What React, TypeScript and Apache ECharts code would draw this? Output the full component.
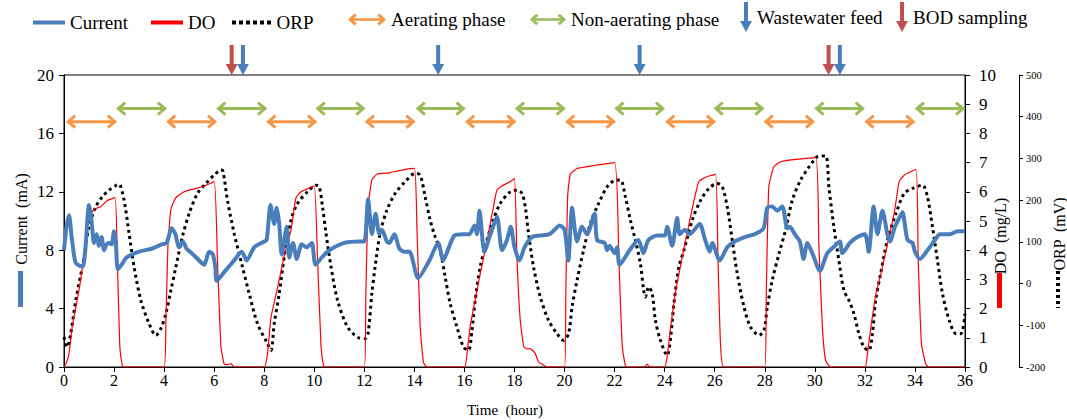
import React, { useEffect, useRef } from 'react';
import * as echarts from 'echarts';

// Time (hour), Current (mA)
const currentData: [number, number][] = [
  [0, 8.0], [0.1, 9.6], [0.2, 10.4], [0.3, 9.0], [0.45, 7.2], [0.6, 6.95], [0.75, 6.9], [0.85, 8.0], [1.0, 11.1], [1.1, 10.0],
  [1.2, 8.5], [1.3, 9.1], [1.4, 8.3], [1.5, 8.9], [1.6, 8.0], [1.7, 8.4], [1.8, 8.5], [1.9, 8.4], [2.0, 9.3], [2.07, 8.6],
  [2.15, 6.7], [2.3, 7.0], [2.5, 7.5], [3.0, 7.9], [3.5, 8.1], [3.9, 8.4], [4.1, 8.5], [4.3, 9.5], [4.45, 9.1], [4.6, 8.2],
  [4.75, 8.6], [4.9, 8.1], [5.1, 7.8], [5.4, 7.3], [5.6, 7.0], [5.8, 7.9], [5.95, 7.7], [6.05, 6.8], [6.1, 5.9], [6.4, 6.5],
  [6.8, 7.3], [7.1, 7.9], [7.3, 7.3], [7.6, 8.2], [8.0, 8.6], [8.1, 8.7], [8.25, 11.1], [8.4, 9.8], [8.5, 10.9], [8.6, 9.8],
  [8.7, 7.7], [8.9, 9.6], [9.0, 7.5], [9.15, 8.5], [9.3, 7.4], [9.5, 8.4], [9.7, 8.2], [9.9, 8.5], [10.05, 7.0], [10.3, 7.5],
  [10.6, 8.0], [11.2, 8.5], [11.8, 8.6], [12.0, 8.6], [12.15, 11.5], [12.3, 9.1], [12.45, 10.5], [12.6, 9.1], [12.7, 9.4], [12.9, 8.6],
  [13.0, 8.5], [13.2, 9.1], [13.4, 8.1], [13.6, 7.9], [13.8, 7.9], [14.15, 6.1], [14.6, 7.3], [14.95, 8.5], [15.15, 7.3], [15.4, 8.3],
  [15.6, 9.0], [15.95, 9.1], [16.2, 9.1], [16.4, 9.7], [16.5, 9.1], [16.6, 10.7], [16.8, 7.9], [17.0, 8.9], [17.1, 9.4], [17.3, 10.3],
  [17.5, 8.0], [17.7, 8.7], [17.85, 9.6], [18.0, 8.2], [18.2, 7.3], [18.4, 8.2], [18.7, 8.9], [19.0, 9.0], [19.4, 9.1], [19.6, 9.4],
  [19.8, 9.7], [20.0, 9.4], [20.15, 7.3], [20.3, 10.9], [20.5, 8.6], [20.7, 9.6], [20.9, 9.1], [21.2, 10.5], [21.3, 8.7], [21.6, 8.5],
  [21.7, 8.0], [21.8, 8.3], [22.0, 7.8], [22.1, 8.2], [22.2, 7.0], [22.6, 8.0], [22.95, 8.7], [23.15, 7.8], [23.35, 8.7], [23.7, 9.0],
  [24.0, 9.0], [24.1, 9.6], [24.3, 8.3], [24.5, 10.2], [24.6, 9.1], [24.8, 9.4], [25.0, 9.1], [25.4, 9.8], [25.6, 8.8], [25.8, 7.9],
  [25.9, 8.5], [26.2, 7.3], [26.5, 8.2], [26.8, 8.6], [27.2, 8.9], [27.6, 9.1], [27.95, 9.5], [28.1, 10.9], [28.3, 11.0], [28.5, 10.7],
  [28.7, 11.0], [28.9, 9.5], [29.0, 9.6], [29.2, 9.1], [29.4, 8.6], [29.55, 7.4], [29.7, 8.5], [29.9, 7.8], [30.2, 6.6], [30.5, 7.8],
  [30.8, 8.3], [31.0, 8.6], [31.1, 7.8], [31.4, 8.5], [31.7, 8.9], [32.0, 9.1], [32.15, 7.9], [32.35, 11.0], [32.5, 9.1], [32.7, 10.7],
  [32.9, 9.1], [33.0, 8.6], [33.2, 9.6], [33.4, 10.3], [33.5, 10.6], [33.7, 8.7], [33.9, 8.5], [34.0, 7.9], [34.2, 7.4], [34.5, 8.0],
  [34.8, 8.7], [35.0, 9.1], [35.4, 9.1], [35.7, 9.3], [36.0, 9.3],
];

// Time (hour), DO (mg/L)
const doData: [number, number][] = [
  [0, 0], [0.1, 0.15], [0.2, 0.46], [0.33, 1.4], [0.53, 2.3], [0.67, 3.0], [0.87, 4.3], [1.0, 5.1], [1.2, 5.4], [1.47, 5.5],
  [1.73, 5.7], [2.04, 5.8], [2.13, 3.7], [2.23, 0.7], [2.33, 0.05], [2.4, 0], [4.0, 0], [4.07, 1.5], [4.15, 4.1], [4.27, 5.4],
  [4.47, 5.8], [4.8, 6.0], [5.2, 6.1], [5.6, 6.2], [6.0, 6.35], [6.13, 3.7], [6.27, 0.7], [6.4, 0.1], [6.55, 0.08], [6.67, 0.12],
  [6.8, 0], [8.0, 0], [8.13, 0.45], [8.27, 1.7], [8.53, 2.7], [8.8, 3.8], [9.07, 4.7], [9.27, 5.8], [9.47, 6.0], [9.73, 6.1],
  [10.0, 6.2], [10.13, 3.7], [10.27, 0.7], [10.37, 0.05], [10.45, 0], [12.0, 0], [12.06, 2.5], [12.15, 5.5], [12.3, 6.4], [12.5, 6.6],
  [13.0, 6.65], [13.55, 6.75], [14.0, 6.8], [14.1, 4.8], [14.23, 1.4], [14.36, 0.17], [14.5, 0], [16.0, 0], [16.1, 0.45], [16.23, 1.4],
  [16.43, 2.3], [16.63, 3.2], [16.9, 4.3], [17.16, 5.5], [17.3, 6.06], [17.5, 6.2], [17.83, 6.35], [18.0, 6.45], [18.1, 3.7], [18.23, 1.6],
  [18.37, 0.7], [18.5, 0.62], [18.63, 0.63], [18.83, 0.46], [18.96, 0.17], [19.1, 0.1], [19.3, 0], [20.0, 0], [20.05, 2.5], [20.12, 5.8],
  [20.23, 6.6], [20.5, 6.8], [21.17, 6.9], [22.0, 7.0], [22.17, 3.7], [22.3, 0.8], [22.43, 0.05], [22.5, 0], [23.2, 0], [23.3, 0.1],
  [23.4, 0], [24.0, 0], [24.1, 0.35], [24.24, 1.37], [24.44, 2.6], [24.64, 3.5], [24.9, 4.6], [25.17, 5.7], [25.37, 6.35], [25.64, 6.5],
  [26.03, 6.6], [26.13, 3.7], [26.23, 0.8], [26.36, 0], [28.0, 0], [28.06, 2.5], [28.16, 6.17], [28.36, 6.86], [28.63, 7.03], [29.16, 7.1],
  [30.03, 7.17], [30.16, 4.2], [30.3, 1.4], [30.43, 0.23], [30.63, 0], [32.0, 0], [32.1, 0.45], [32.24, 1.37], [32.44, 2.5], [32.64, 3.2],
  [32.9, 4.2], [33.17, 5.26], [33.37, 6.35], [33.57, 6.57], [34.04, 6.77], [34.13, 3.7], [34.26, 0.8], [34.43, 0.1], [34.55, 0], [36, 0],
];

// Time (hour), ORP (mV)
const orpData: [number, number][] = [
  [0, -128], [0.13, -152], [0.27, -120], [0.47, -40], [0.73, 40], [1.0, 136], [1.27, 184], [1.53, 208], [1.8, 224], [2.1, 236],
  [2.2, 238], [2.4, 200], [2.6, 120], [2.8, 40], [3.07, -40], [3.4, -96], [3.67, -124], [3.87, -108], [4.07, -72], [4.27, -16],
  [4.47, 40], [4.73, 112], [5.0, 168], [5.33, 216], [5.67, 240], [6.0, 260], [6.27, 272], [6.35, 270], [6.53, 200], [6.8, 120],
  [7.13, 40], [7.4, -24], [7.73, -96], [8.13, -144], [8.27, -160], [8.4, -96], [8.6, -24], [8.8, 64], [9.07, 152], [9.33, 192],
  [9.73, 220], [10.07, 236], [10.2, 232], [10.33, 184], [10.47, 120], [10.67, 40], [10.93, -40], [11.33, -104], [11.77, -130], [12.03, -132],
  [12.15, -120], [12.3, -24], [12.43, 40], [12.63, 120], [12.9, 176], [13.23, 216], [13.63, 244], [14.03, 264], [14.23, 260], [14.43, 208],
  [14.63, 152], [14.83, 112], [15.03, 80], [15.23, 16], [15.43, -48], [15.7, -104], [15.96, -152], [16.16, -160], [16.3, -112], [16.43, -40],
  [16.63, 40], [16.83, 88], [17.1, 144], [17.43, 192], [17.83, 220], [18.1, 224], [18.3, 216], [18.43, 184], [18.56, 120], [18.76, 40],
  [19.03, -32], [19.36, -88], [19.7, -120], [19.96, -136], [20.16, -120], [20.3, -56], [20.5, 8], [20.76, 80], [21.03, 144], [21.36, 192],
  [21.7, 232], [21.96, 246], [22.23, 248], [22.43, 208], [22.63, 152], [22.83, 104], [23.03, 48], [23.16, -16], [23.23, -32], [23.36, -8],
  [23.5, -24], [23.63, -88], [23.83, -136], [24.1, -172], [24.24, -128], [24.37, -48], [24.57, 40], [24.77, 80], [25.1, 152], [25.44, 200],
  [25.77, 228], [26.1, 240], [26.3, 232], [26.5, 184], [26.7, 104], [26.9, 24], [27.17, -56], [27.43, -104], [27.77, -124], [27.97, -112],
  [28.1, -56], [28.3, 8], [28.57, 72], [28.83, 128], [29.1, 200], [29.43, 248], [29.77, 280], [29.97, 296], [30.1, 304], [30.43, 306],
  [30.56, 232], [30.76, 136], [30.96, 56], [31.16, -16], [31.36, -40], [31.56, -72], [31.76, -120], [31.96, -152], [32.16, -160], [32.3, -120],
  [32.43, -40], [32.63, 24], [32.9, 104], [33.24, 168], [33.57, 216], [33.9, 228], [34.3, 236], [34.5, 208], [34.7, 136], [34.9, 56],
  [35.1, -24], [35.37, -88], [35.64, -120], [35.84, -120], [36.0, -72],
];

// Phase intervals (hour): [start, end]
const aeratingPhases: [number, number][] = [
  [0.13, 2.07], [4.13, 6.07], [8.13, 10.07], [12.07, 14.0], [16.07, 18.03], [20.07, 22.0], [24.07, 26.0], [28.0, 29.96], [32.03, 33.97],
];
const nonAeratingPhases: [number, number][] = [
  [2.13, 4.07], [6.13, 8.07], [10.1, 12.0], [14.1, 16.0], [18.06, 20.0], [22.04, 23.97], [26.0, 27.94], [30.03, 31.95], [34.04, 35.96],
];
const AERATING_LEVEL = 16.8; // on the Current axis
const NON_AERATING_LEVEL = 17.7;

// Event times (hour)
const feedTimes: number[] = [7.15, 14.95, 23.0, 31.0];
const bodTimes: number[] = [6.7, 30.55];

const CURRENT_MAX = 20;

const BLUE = '#4A7EBB';
const RED = '#FF0000';
const ORANGE = '#F79646';
const GREEN = '#9BBB59';
const ARROW_BLUE = '#4A7EBB';
const ARROW_RED = '#C0504D';
const FONT = '"Liberation Serif", "Times New Roman", serif';

const DOTS_ICON = 'path://M0,0h4v4h-4z M7,0h4v4h-4z M14,0h4v4h-4z M21,0h4v4h-4z M28,0h4v4h-4z M35,0h4v4h-4z';
const DBL_ARROW_ICON = 'path://M0,6 L6.5,0 L9,2.2 L5.5,4.8 L32.5,4.8 L29,2.2 L31.5,0 L38,6 L31.5,12 L29,9.8 L32.5,7.2 L5.5,7.2 L9,9.8 L6.5,12 Z';
const DOWN_ARROW_ICON = 'path://M4,0 H8 V19 H12 L6,30 L0,19 H4 Z';

function phaseRender(color: string) {
  return (_params: any, api: any) => {
    const a = api.coord([api.value(0), api.value(2)]);
    const b = api.coord([api.value(1), api.value(2)]);
    const h = 6;
    const l = 8;
    const st = { stroke: color, lineWidth: 3, fill: 'none' };
    return {
      type: 'group',
      children: [
        { type: 'line', shape: { x1: a[0] + 2, y1: a[1], x2: b[0] - 2, y2: b[1] }, style: st },
        { type: 'polyline', shape: { points: [[a[0] + l, a[1] - h], [a[0] + 1, a[1]], [a[0] + l, a[1] + h]] }, style: st },
        { type: 'polyline', shape: { points: [[b[0] - l, b[1] - h], [b[0] - 1, b[1]], [b[0] - l, b[1] + h]] }, style: st },
      ],
    };
  };
}

function downArrowRender(color: string) {
  return (_params: any, api: any) => {
    const p = api.coord([api.value(0), CURRENT_MAX]);
    return {
      type: 'group',
      children: [
        { type: 'rect', shape: { x: p[0] - 2, y: p[1] - 30, width: 4, height: 20 }, style: { fill: color } },
        { type: 'polygon', shape: { points: [[p[0] - 6, p[1] - 11], [p[0] + 6, p[1] - 11], [p[0], p[1]]] }, style: { fill: color } },
      ],
    };
  };
}

export default function App() {
  const ref = useRef<HTMLDivElement>(null);

  useEffect(() => {
    if (!ref.current) return;
    const chart = echarts.init(ref.current, undefined, { renderer: 'svg' });

    const legendText = { fontFamily: FONT, fontSize: 19, color: '#000' };
    const mkLegend = (name: string, left: number, top: number, icon: string, w: number, h: number, color: string) => ({
      data: [{ name, icon, itemStyle: { color, borderWidth: 0 } }],
      left,
      top,
      padding: 0,
      itemWidth: w,
      itemHeight: h,
      selectedMode: false,
      textStyle: legendText,
      itemStyle: { borderWidth: 0 },
    });

    const tickLabel = { fontFamily: FONT, fontSize: 16, color: '#000' };

    chart.setOption({
      animation: false,
      backgroundColor: '#fff',
      grid: { left: 64, right: 102, top: 75, bottom: 53, show: true, borderColor: '#000', borderWidth: 1, backgroundColor: 'transparent' },
      legend: [
        mkLegend('Current', 33, 13, 'rect', 32, 4, BLUE),
        mkLegend('DO', 151, 13, 'rect', 32, 4, RED),
        mkLegend('ORP', 232, 13, DOTS_ICON, 40, 4, '#000'),
        mkLegend('Aerating phase', 348, 10, DBL_ARROW_ICON, 38, 12, ORANGE),
        mkLegend('Non-aerating phase', 530, 10, DBL_ARROW_ICON, 36, 12, GREEN),
        mkLegend('Wastewater feed', 740, 2, DOWN_ARROW_ICON, 12, 30, ARROW_BLUE),
        mkLegend('BOD sampling', 896, 2, DOWN_ARROW_ICON, 12, 30, ARROW_RED),
      ],
      xAxis: {
        type: 'value',
        min: 0,
        max: 36,
        interval: 2,
        axisLine: { lineStyle: { color: '#000', width: 1 } },
        axisTick: { show: true, inside: false, length: 5, lineStyle: { color: '#000' } },
        axisLabel: { ...tickLabel, margin: 5 },
        splitLine: { show: false },
      },
      yAxis: [
        {
          type: 'value',
          min: 0,
          max: 20,
          interval: 4,
          position: 'left',
          axisLine: { show: true, lineStyle: { color: '#000', width: 1 } },
          axisTick: { show: true, inside: false, length: 5, lineStyle: { color: '#000' } },
          axisLabel: { ...tickLabel, fontSize: 17, margin: 10 },
          splitLine: { show: false },
        },
        {
          type: 'value',
          min: 0,
          max: 10,
          interval: 1,
          position: 'right',
          axisLine: { show: true, lineStyle: { color: '#000', width: 1 } },
          axisTick: { show: true, inside: false, length: 5, lineStyle: { color: '#000' } },
          axisLabel: { ...tickLabel, fontSize: 17, margin: 14 },
          splitLine: { show: false },
        },
        {
          type: 'value',
          min: -200,
          max: 500,
          interval: 100,
          position: 'right',
          offset: 54,
          axisLine: { show: true, lineStyle: { color: '#000', width: 1 } },
          axisTick: { show: true, inside: false, length: 4, lineStyle: { color: '#000' } },
          axisLabel: { fontFamily: FONT, fontSize: 10.5, color: '#000', margin: 7 },
          splitLine: { show: false },
        },
      ],
      graphic: [
        { type: 'text', x: 21, y: 219, rotation: Math.PI / 2, style: { text: 'Current  (mA)', font: `16px ${FONT}`, fill: '#000', textAlign: 'center', textVerticalAlign: 'middle' } },
        { type: 'rect', shape: { x: 18, y: 271, width: 5, height: 36 }, style: { fill: BLUE } },
        { type: 'text', x: 1000, y: 236, rotation: Math.PI / 2, style: { text: 'DO  (mg/L)', font: `16px ${FONT}`, fill: '#000', textAlign: 'center', textVerticalAlign: 'middle' } },
        { type: 'rect', shape: { x: 997, y: 273, width: 5, height: 35 }, style: { fill: RED } },
        { type: 'text', x: 1059, y: 234, rotation: Math.PI / 2, style: { text: 'ORP  (mV)', font: `16px ${FONT}`, fill: '#000', textAlign: 'center', textVerticalAlign: 'middle' } },
        { type: 'line', shape: { x1: 1058, y1: 271, x2: 1058, y2: 308 }, style: { stroke: '#000', lineWidth: 4, lineDash: [3, 3] } },
        { type: 'text', x: 505, y: 410, style: { text: 'Time  (hour)', font: `15px ${FONT}`, fill: '#000', textAlign: 'center', textVerticalAlign: 'middle' } },
      ],
      series: [
        {
          name: 'ORP',
          type: 'line',
          yAxisIndex: 2,
          data: orpData,
          showSymbol: false,
          symbol: 'none',
          smooth: 0.3,
          color: '#000',
          lineStyle: { color: '#000', width: 3, type: [3, 3.5] },
          z: 3,
        },
        {
          name: 'DO',
          type: 'line',
          yAxisIndex: 1,
          data: doData,
          showSymbol: false,
          symbol: 'none',
          smooth: 0.15,
          color: RED,
          lineStyle: { color: RED, width: 1.2 },
          z: 4,
        },
        {
          name: 'Current',
          type: 'line',
          yAxisIndex: 0,
          data: currentData,
          showSymbol: false,
          symbol: 'none',
          smooth: 0.25,
          color: BLUE,
          lineStyle: { color: BLUE, width: 4 },
          z: 5,
        },
        {
          name: 'Aerating phase',
          type: 'custom',
          yAxisIndex: 0,
          renderItem: phaseRender(ORANGE),
          data: aeratingPhases.map(([s, e]) => [s, e, AERATING_LEVEL]),
          encode: { x: [0, 1], y: 2 },
          itemStyle: { color: ORANGE },
          clip: false,
          silent: true,
          z: 6,
        },
        {
          name: 'Non-aerating phase',
          type: 'custom',
          yAxisIndex: 0,
          renderItem: phaseRender(GREEN),
          data: nonAeratingPhases.map(([s, e]) => [s, e, NON_AERATING_LEVEL]),
          encode: { x: [0, 1], y: 2 },
          itemStyle: { color: GREEN },
          clip: false,
          silent: true,
          z: 6,
        },
        {
          name: 'Wastewater feed',
          type: 'custom',
          yAxisIndex: 0,
          renderItem: downArrowRender(ARROW_BLUE),
          data: feedTimes.map((t) => [t, CURRENT_MAX]),
          itemStyle: { color: ARROW_BLUE },
          clip: false,
          silent: true,
          z: 7,
        },
        {
          name: 'BOD sampling',
          type: 'custom',
          yAxisIndex: 0,
          renderItem: downArrowRender(ARROW_RED),
          data: bodTimes.map((t) => [t, CURRENT_MAX]),
          itemStyle: { color: ARROW_RED },
          clip: false,
          silent: true,
          z: 7,
        },
      ],
    });

    return () => {
      chart.dispose();
    };
  }, []);

  return <div ref={ref} style={{ position: 'absolute', left: 0, top: 0, width: 1067, height: 420 }} />;
}
